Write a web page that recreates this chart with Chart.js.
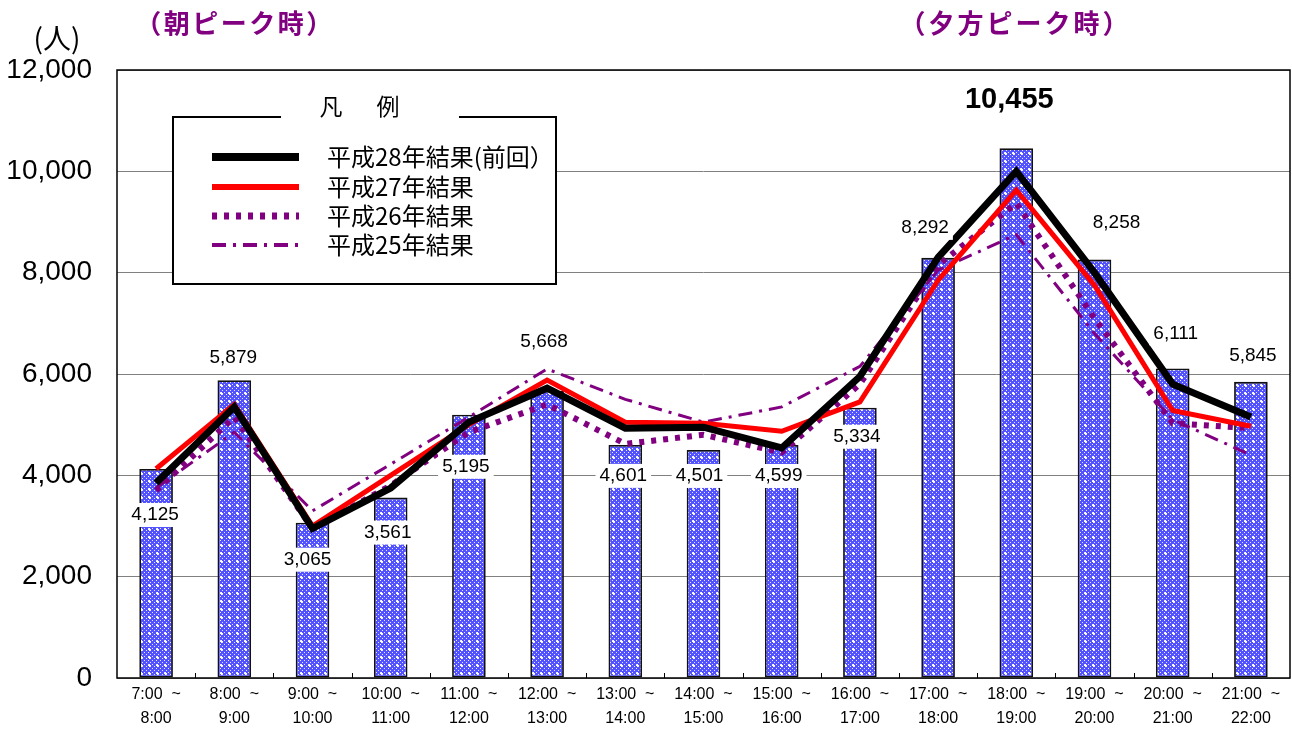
<!DOCTYPE html>
<html lang="ja">
<head>
<meta charset="utf-8">
<title>時間帯別通行量</title>
<script src="https://cdn.jsdelivr.net/npm/chart.js@4/dist/chart.umd.min.js"></script>
<style>
  html, body { margin: 0; padding: 0; background: #fff; }
  canvas { display: block; }
</style>
</head>
<body>
<canvas id="chart" width="1292" height="731"></canvas>
<script>
// Time slots (two-line axis labels)
const slots = [
    ['7:00  ~', '8:00'], ['8:00  ~', '9:00'], ['9:00  ~', '10:00'], ['10:00  ~', '11:00'],
    ['11:00  ~', '12:00'], ['12:00  ~', '13:00'], ['13:00  ~', '14:00'], ['14:00  ~', '15:00'],
    ['15:00  ~', '16:00'], ['16:00  ~', '17:00'], ['17:00  ~', '18:00'], ['18:00  ~', '19:00'],
    ['19:00  ~', '20:00'], ['20:00  ~', '21:00'], ['21:00  ~', '22:00']
];

// This year's counts (bars)
const counts = [4125, 5879, 3065, 3561, 5195, 5668, 4601, 4501, 4599, 5334, 8292, 10455, 8258, 6111, 5845];

// Previous surveys (lines)
const h28 = [3850, 5350, 2950, 3750, 5050, 5720, 4930, 4950, 4540, 5950, 8300, 10000, 8000, 5800, 5150];
const h27 = [4130, 5400, 3000, 4000, 5000, 5880, 5050, 5030, 4870, 5450, 7850, 9630, 7750, 5280, 4970];
const h26 = [3700, 5150, 2950, 3800, 4850, 5400, 4620, 4800, 4450, 5800, 8150, 9370, 7100, 5030, 4930];
const h25 = [3750, 4850, 3300, 4220, 5150, 6100, 5500, 5050, 5350, 6150, 8050, 8750, 6800, 5100, 4400];

const yTicks = [0, 2000, 4000, 6000, 8000, 10000, 12000];

const FONT = '"Liberation Sans", Arial, "Noto Sans CJK JP", sans-serif';
const JP_FONT = '"Noto Sans CJK JP", "Liberation Sans", sans-serif';
const PURPLE = '#800080';

// where each value label sits relative to its bar top (px)
const labelShift = [
    [-1, 46], [-1, -22], [-5, 37], [-3, 35], [-3, 52], [-3, -49], [-2, 31], [-4, 26],
    [-3, 31], [-3, 29], [-13, -30], [-7, -48], [22, -37], [3, -35], [2, -26]
];

// blue dotted fill for the bars
function makePattern() {
    const c = document.createElement('canvas');
    c.width = 8; c.height = 8;
    const g = c.getContext('2d');
    g.fillStyle = '#5252ff';
    g.fillRect(0, 0, 8, 8);
    g.fillStyle = 'rgba(255,255,255,0.85)';
    for (let y = 0; y < 8; y++) {
        for (let x = 0; x < 8; x++) {
            if ((x % 4 === 0 && y % 4 === 0) || (x % 4 === 2 && y % 4 === 2)) g.fillRect(x, y, 1, 1);
        }
    }
    // small cross
    g.fillStyle = '#ffffff';
    g.fillRect(5, 0, 1, 3);
    g.fillRect(4, 1, 3, 1);
    return g.createPattern(c, 'repeat');
}

const series = [
    { label: '平成28年結果(前回）', data: h28, color: '#000000', width: 7, dash: [] },
    { label: '平成27年結果', data: h27, color: '#ff0000', width: 5, dash: [] },
    { label: '平成26年結果', data: h26, color: PURPLE, width: 6, dash: [5, 7] },
    { label: '平成25年結果', data: h25, color: PURPLE, width: 3, dash: [14, 7, 3, 7] }
];

// draw a heading with an even character pitch
function spacedText(ctx, text, left, y, pitch) {
    Array.from(text).forEach((ch, i) => {
        ctx.fillText(ch, left + pitch * (i + 0.5), y);
    });
}

// titles, legend box, value labels and frame
const decorations = {
    id: 'decorations',
    afterDatasetsDraw(chart) {
        const ctx = chart.ctx;
        const area = chart.chartArea;
        ctx.save();

        // frame
        ctx.strokeStyle = '#000';
        ctx.lineWidth = 1.5;
        ctx.strokeRect(area.left, area.top, area.right - area.left, area.bottom - area.top);

        // inner tick marks between slots
        ctx.lineWidth = 1;
        const step = (area.right - area.left) / slots.length;
        for (let i = 1; i < slots.length; i++) {
            const x = Math.round(area.left + i * step) + 0.5;
            ctx.beginPath();
            ctx.moveTo(x, area.bottom);
            ctx.lineTo(x, area.bottom - 5);
            ctx.stroke();
        }

        // value labels
        const meta = chart.getDatasetMeta(0);
        const peak = counts.indexOf(Math.max(...counts));
        ctx.textAlign = 'center';
        ctx.textBaseline = 'middle';
        meta.data.forEach((bar, i) => {
            const text = counts[i].toLocaleString('en-US');
            const x = bar.x + labelShift[i][0];
            const y = bar.y + labelShift[i][1];
            if (i === peak) {
                ctx.font = 'bold 29px ' + FONT;
            } else {
                ctx.font = '19px ' + FONT;
                const w = ctx.measureText(text).width + 8;
                ctx.fillStyle = '#fff';
                ctx.fillRect(x - w / 2, y - 12, w, 24);
            }
            ctx.fillStyle = '#000';
            ctx.fillText(text, x, y);
        });

        // legend box
        const lx = 173, ly = 117, lw = 383, lh = 167;
        ctx.fillStyle = '#fff';
        ctx.fillRect(lx, ly, lw, lh);
        ctx.strokeStyle = '#000';
        ctx.lineWidth = 2;
        ctx.beginPath();
        ctx.moveTo(281, ly);
        ctx.lineTo(lx, ly);
        ctx.lineTo(lx, ly + lh);
        ctx.lineTo(lx + lw, ly + lh);
        ctx.lineTo(lx + lw, ly);
        ctx.lineTo(459, ly);
        ctx.stroke();
        ctx.fillStyle = '#000';
        ctx.font = '23px ' + JP_FONT;
        ctx.textAlign = 'center';
        ctx.textBaseline = 'alphabetic';
        ctx.fillText('凡', 331, 115);
        ctx.fillText('例', 388, 115);

        const rows = [157, 187, 216, 245];
        series.forEach((s, i) => {
            ctx.strokeStyle = s.color;
            ctx.lineWidth = s.width + 1;
            ctx.setLineDash(s.dash);
            ctx.beginPath();
            ctx.moveTo(212, rows[i]);
            ctx.lineTo(299, rows[i]);
            ctx.stroke();
            ctx.setLineDash([]);
            ctx.fillStyle = '#000';
            ctx.font = '24px ' + JP_FONT;
            ctx.textAlign = 'left';
            ctx.textBaseline = 'middle';
            ctx.fillText(s.label, 327, rows[i]);
        });

        // headings
        ctx.fillStyle = PURPLE;
        ctx.font = 'bold 26px ' + JP_FONT;
        ctx.textAlign = 'center';
        ctx.textBaseline = 'middle';
        spacedText(ctx, '（朝ピーク時）', 134, 23, 28.5);
        spacedText(ctx, '（夕方ピーク時）', 898, 23, 29);

        // unit
        ctx.fillStyle = '#000';
        ctx.font = '28px ' + JP_FONT;
        ctx.fillText('(人)', 57, 38);

        ctx.restore();
    }
};

window.onload = () => {
    const ctx = document.getElementById('chart').getContext('2d');
    const pattern = makePattern();

    const lineSets = series.map((s, i) => ({
        type: 'line',
        label: s.label,
        data: s.data,
        borderColor: s.color,
        borderWidth: s.width,
        borderDash: s.dash,
        borderJoinStyle: 'miter',
        borderCapStyle: 'butt',
        pointRadius: 0,
        tension: 0,
        fill: false,
        order: i
    }));

    new Chart(ctx, {
        type: 'bar',
        data: {
            labels: slots,
            datasets: [{
                label: '今回',
                data: counts,
                backgroundColor: pattern,
                borderColor: '#111',
                borderWidth: 1.8,
                borderSkipped: false,
                barPercentage: 0.43,
                categoryPercentage: 1,
                order: 10
            }].concat(lineSets)
        },
        options: {
            responsive: false,
            animation: false,
            events: [],
            layout: { padding: { left: 0, top: 70, right: 2, bottom: 0 } },
            plugins: {
                legend: { display: false },
                tooltip: { enabled: false }
            },
            scales: {
                x: {
                    grid: { display: false, drawTicks: false },
                    border: { display: false },
                    ticks: {
                        color: '#000',
                        padding: 5,
                        maxRotation: 0,
                        autoSkip: false,
                        font: { family: FONT, size: 16, lineHeight: 1.5 }
                    },
                    afterFit: s => { s.height = 53; }
                },
                y: {
                    min: 0,
                    max: 12000,
                    afterBuildTicks: s => { s.ticks = yTicks.map(v => ({ value: v })); },
                    grid: { color: '#808080', lineWidth: 1, drawTicks: false },
                    border: { display: false },
                    ticks: {
                        color: '#000',
                        padding: 25,
                        font: { family: FONT, size: 28 },
                        callback: v => v.toLocaleString('en-US')
                    },
                    afterFit: s => { s.width = 117; }
                }
            }
        },
        plugins: [decorations]
    });
};
</script>
</body>
</html>
